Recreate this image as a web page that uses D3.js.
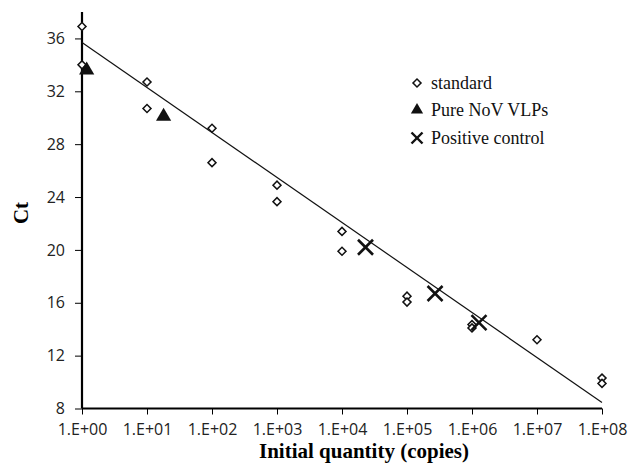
<!DOCTYPE html>
<html>
<head>
<meta charset="utf-8">
<script src="https://cdn.jsdelivr.net/npm/d3@7"></script>
<style>
  body { margin: 0; background: #fff; }
  svg { display: block; }
</style>
</head>
<body>
<div id="chart"></div>
<script>
// data
const stdX = [1, 1, 10, 10, 100, 100, 1e3, 1e3, 1e4, 1e4, 1e5, 1e5, 1e6, 1e6, 1e7, 1e8, 1e8];
const stdCt = [36.9, 34.0, 32.7, 30.7, 29.2, 26.6, 24.9, 23.65, 21.4, 19.9, 16.5, 16.05, 14.35, 14.1, 13.2, 10.3, 9.9];
const vlpX = [1.18, 18];
const vlpCt = [33.6, 30.1];
const pcX = [2.3e4, 2.7e5, 1.28e6];
const pcCt = [20.2, 16.7, 14.5];
// fitted trend line end points
const trendX = [1, 1e8];
const trendCt = [35.7, 8.45];
const yTicks = [8, 12, 16, 20, 24, 28, 32, 36];
const xTicks = [1, 1e1, 1e2, 1e3, 1e4, 1e5, 1e6, 1e7, 1e8];
const legendLabels = ["standard", "Pure NoV VLPs", "Positive control"];

const W = 631, H = 473;
const svg = d3.select("#chart").append("svg")
  .attr("width", W).attr("height", H);

const x = d3.scaleLog().domain([1, 1e8]).range([82, 602]);
const y = d3.scaleLinear().domain([8, 38]).range([408.5, 12]);

const tickFont = "'Open Sans', sans-serif";
const serif = "'Liberation Serif', 'Times New Roman', serif";

// y axis
const yAxis = svg.append("g")
  .attr("transform", `translate(${x(1)},0)`)
  .call(d3.axisLeft(y).tickValues(yTicks).tickSize(7).tickPadding(10).tickFormat(d3.format("d")));
yAxis.select(".domain").attr("stroke-width", 2.2).attr("d", `M0,${y(38)}V${y(8)}`);
yAxis.selectAll(".tick line").attr("stroke-width", 1);
yAxis.selectAll("text").style("font-family", tickFont).style("font-size", "16px").attr("fill", "#222");

// x axis
const xAxis = svg.append("g")
  .attr("transform", `translate(0,${y(8)})`)
  .call(d3.axisBottom(x).tickValues(xTicks).tickSize(6).tickPadding(9)
    .tickFormat(d => "1.E+" + String(Math.round(Math.log10(d))).padStart(2, "0")));
xAxis.select(".domain").attr("stroke-width", 2.2).attr("d", `M${x(1)},0H${x(1e8)}`);
xAxis.selectAll(".tick line").attr("stroke-width", 1);
xAxis.selectAll("text").style("font-family", tickFont).style("font-size", "16px").attr("fill", "#222");

// axis titles
svg.append("text")
  .attr("x", 364).attr("y", 458)
  .attr("text-anchor", "middle")
  .style("font-family", serif).style("font-weight", "bold").style("font-size", "21px")
  .text("Initial quantity (copies)");

svg.append("text")
  .attr("transform", "translate(28,213) rotate(-90)")
  .attr("text-anchor", "middle")
  .style("font-family", serif).style("font-weight", "bold").style("font-size", "21px")
  .text("Ct");

// trend line
const trend = trendX.map((d, i) => [d, trendCt[i]]);
svg.append("path")
  .datum(trend)
  .attr("fill", "none")
  .attr("stroke", "#111")
  .attr("stroke-width", 1.2)
  .attr("d", d3.line().x(d => x(d[0])).y(d => y(d[1])));

// markers
const diamond = d3.symbol().type(d3.symbolSquare).size(32);
const triangle = d3.symbol().type(d3.symbolTriangle).size(100);

svg.append("g").selectAll("path")
  .data(stdX.map((d, i) => [d, stdCt[i]]))
  .join("path")
  .attr("d", diamond)
  .attr("transform", d => `translate(${x(d[0])},${y(d[1])}) rotate(45)`)
  .attr("fill", "#fff")
  .attr("stroke", "#111")
  .attr("stroke-width", 1.5);

svg.append("g").selectAll("path")
  .data(vlpX.map((d, i) => [d, vlpCt[i]]))
  .join("path")
  .attr("d", triangle)
  .attr("transform", d => `translate(${x(d[0])},${y(d[1])})`)
  .attr("fill", "#111");

function cross(g, s) {
  g.append("line").attr("x1", -s).attr("y1", -s).attr("x2", s).attr("y2", s);
  g.append("line").attr("x1", -s).attr("y1", s).attr("x2", s).attr("y2", -s);
}

svg.append("g").selectAll("g")
  .data(pcX.map((d, i) => [d, pcCt[i]]))
  .join("g")
  .attr("transform", d => `translate(${x(d[0])},${y(d[1])})`)
  .attr("stroke", "#111")
  .attr("stroke-width", 2.6)
  .each(function () { cross(d3.select(this), 7.5); });

// legend
const legend = svg.append("g").attr("transform", "translate(417,0)");
const rows = [83, 110, 138];

legend.append("path").attr("d", diamond)
  .attr("transform", `translate(0,${rows[0]}) rotate(45)`)
  .attr("fill", "#fff").attr("stroke", "#111").attr("stroke-width", 1.5);
legend.append("path").attr("d", d3.symbol().type(d3.symbolTriangle).size(65))
  .attr("transform", `translate(0,${rows[1]})`)
  .attr("fill", "#111");
legend.append("g")
  .attr("transform", `translate(0,${rows[2]})`)
  .attr("stroke", "#111").attr("stroke-width", 2.4)
  .each(function () { cross(d3.select(this), 5.5); });

legend.selectAll("text.lbl")
  .data(legendLabels)
  .join("text")
  .attr("class", "lbl")
  .attr("x", 14)
  .attr("y", (d, i) => rows[i] + 6)
  .style("font-family", serif).style("font-size", "18px").attr("fill", "#111")
  .text(d => d);
</script>
</body>
</html>
